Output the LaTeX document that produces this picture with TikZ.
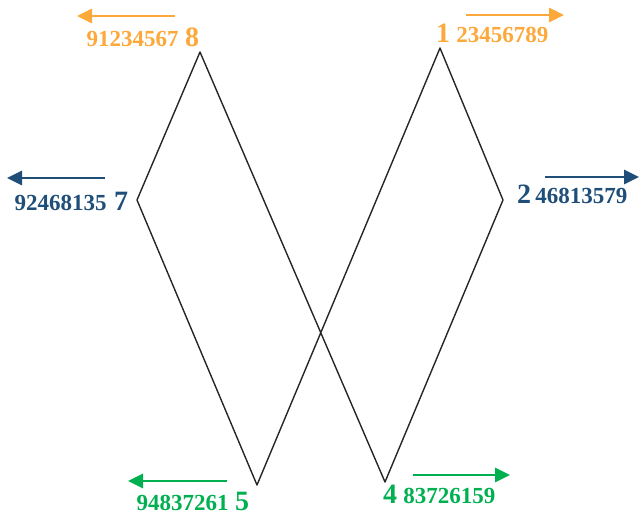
\documentclass[tikz,border=0pt]{standalone}
\usepackage{fontspec}
\setmainfont{Liberation Serif}
\usetikzlibrary{positioning, arrows.meta}
\definecolor{OrangeColor}{RGB}{253,168,58}
\definecolor{BlueColor}{RGB}{31,78,121}
\definecolor{GreenColor}{RGB}{0,176,80}
\tikzset{
  edge/.style={draw=black!85, line width=1.4pt, line join=round},
  big digit/.style={font=\bfseries\fontsize{28}{28}\selectfont, inner sep=0pt},
  sequence/.style={font=\bfseries\fontsize{23}{23}\selectfont, inner sep=0pt},
  direction/.style={-{Triangle[length=15pt,width=14pt]}, line width=2.8pt}
}

\begin{document}
\begin{tikzpicture}[x=1pt, y=-1pt]
  \useasboundingbox (0,0) rectangle (639,516);

  % Corners of the two rhombi
  \coordinate (v1) at (440,48);
  \coordinate (v2) at (503,200);
  \coordinate (v4) at (385,482);
  \coordinate (v8) at (200,52);
  \coordinate (v7) at (137,200);
  \coordinate (v5) at (257,485);

  % Closed path through all corners
  \draw[edge] (v1) -- (v2) -- (v4) -- (v8) -- (v7) -- (v5) -- cycle;

  % Top labels
  \node[big digit, OrangeColor, anchor=base] (d8) at (192,47) {8};
  \node[sequence, OrangeColor, base left=6pt of d8] (s8) {91234567};
  \node[big digit, OrangeColor, anchor=base] (d1) at (443,43) {1};
  \node[sequence, OrangeColor, base right=6pt of d1] (s1) {23456789};

  % Middle labels
  \node[big digit, BlueColor, anchor=base] (d7) at (121,210) {7};
  \node[sequence, BlueColor, base left=7pt of d7] (s7) {92468135};
  \node[big digit, BlueColor, anchor=base] (d2) at (524,203) {2};
  \node[sequence, BlueColor, base right=4pt of d2] (s2) {46813579};

  % Bottom labels
  \node[big digit, GreenColor, anchor=base] (d5) at (242,510) {5};
  \node[sequence, GreenColor, base left=6pt of d5] (s5) {94837261};
  \node[big digit, GreenColor, anchor=base] (d4) at (390,503) {4};
  \node[sequence, GreenColor, base right=6pt of d4] (s4) {83726159};

  % Arrow ends
  \coordinate (a8) at (175,16);  \coordinate (b8) at (77,16);
  \coordinate (a1) at (466,15);  \coordinate (b1) at (564,15);
  \coordinate (a7) at (105,178); \coordinate (b7) at (7,178);
  \coordinate (a2) at (545,177); \coordinate (b2) at (639,177);
  \coordinate (a5) at (227,481); \coordinate (b5) at (128,481);
  \coordinate (a4) at (413,475); \coordinate (b4) at (510,475);

  % Direction arrows
  \draw[direction, OrangeColor] (a8) -- (b8);
  \draw[direction, OrangeColor] (a1) -- (b1);
  \draw[direction, BlueColor] (a7) -- (b7);
  \draw[direction, BlueColor] (a2) -- (b2);
  \draw[direction, GreenColor] (a5) -- (b5);
  \draw[direction, GreenColor] (a4) -- (b4);
\end{tikzpicture}
\end{document}
